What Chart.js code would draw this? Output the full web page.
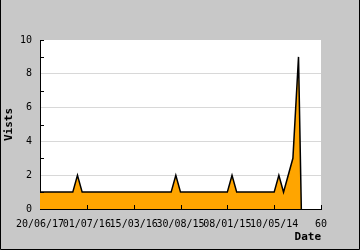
<!DOCTYPE html>
<html>
<head>
<meta charset="utf-8">
<script src="https://cdn.jsdelivr.net/npm/chart.js@4/dist/chart.umd.min.js"></script>
<style>
  html, body { margin: 0; padding: 0; background: #c8c8c8; }
  #wrap { width: 360px; height: 250px; position: relative; }
</style>
</head>
<body>
<div id="wrap"><canvas id="visitsChart"></canvas></div>
<script>
// x position (period index) and visits
const periods = [0, 7, 8, 9, 28, 29, 30, 40, 41, 42, 50, 51, 52, 54, 55.2, 55.8];
const visits  = [1, 1, 2, 1, 1,  2,  1,  1,  2,  1,  1,  2,  1,  3,  9,    0];

// tick labels on the x axis (every 10 periods)
const dateLabels = ["20/06/17", "01/07/16", "15/03/16", "30/08/15", "08/01/15", "10/05/14", "60"];

const monoFont = "'DejaVu Sans Mono', monospace";

// white plot area, grey frame with dark border, inward tick marks
const framePlugin = {
    id: "frame",
    beforeDraw(chart) {
        const ctx = chart.ctx;
        const a = chart.chartArea;
        ctx.save();
        ctx.fillStyle = "#c8c8c8";
        ctx.fillRect(0, 0, chart.width, chart.height);
        ctx.fillStyle = "#ffffff";
        ctx.fillRect(a.left, a.top, a.right - a.left, a.bottom - a.top);
        ctx.restore();
    },
    afterDatasetsDraw(chart) {
        const ctx = chart.ctx;
        const a = chart.chartArea;
        const xs = chart.scales.x;
        const ys = chart.scales.y;
        ctx.save();
        ctx.strokeStyle = "#000000";
        ctx.lineWidth = 1;
        ctx.beginPath();
        xs.ticks.forEach((t, i) => {
            if (t.value === 0) return;
            const px = Math.round(xs.getPixelForTick(i)) + 0.5;
            ctx.moveTo(px, a.bottom);
            ctx.lineTo(px, a.bottom - 4);
        });
        ys.ticks.forEach((t, i) => {
            if (t.value === 0) return;
            if (t.value % 2 === 0 && t.value !== 10) return;
            const py = Math.round(ys.getPixelForTick(i)) + 0.5;
            ctx.moveTo(a.left, py);
            ctx.lineTo(a.left + 4, py);
        });
        ctx.stroke();
        ctx.restore();
    },
    afterDraw(chart) {
        const ctx = chart.ctx;
        ctx.save();
        ctx.strokeStyle = "#000000";
        ctx.lineWidth = 1;
        ctx.beginPath();
        ctx.moveTo(0.5, 0);
        ctx.lineTo(0.5, chart.height - 0.5);
        ctx.lineTo(chart.width - 0.5, chart.height - 0.5);
        ctx.lineTo(chart.width - 0.5, 0);
        ctx.stroke();
        ctx.restore();
    }
};

new Chart(document.getElementById("visitsChart"), {
    type: "line",
    data: {
        datasets: [{
            label: "Visits",
            data: periods.map((p, i) => ({ x: p, y: visits[i] })),
            borderColor: "#000000",
            borderWidth: 1.5,
            backgroundColor: "#ffa500",
            fill: "origin",
            pointRadius: 0,
            tension: 0
        }]
    },
    options: {
        responsive: true,
        maintainAspectRatio: false,
        animation: false,
        events: [],
        layout: { padding: { left: 0, top: 40, right: 39, bottom: 0 } },
        plugins: {
            legend: { display: false },
            tooltip: { enabled: false }
        },
        scales: {
            x: {
                type: "linear",
                min: 0,
                max: 60,
                afterFit(scale) { scale.height = 41; },
                grid: { display: false, drawTicks: false },
                border: { display: true, color: "#000000", width: 1 },
                ticks: {
                    stepSize: 10,
                    autoSkip: false,
                    maxRotation: 0,
                    padding: 9,
                    color: "#000000",
                    font: { family: monoFont, size: 10 },
                    callback: function(value) {
                        const i = Math.round(value / 10);
                        return dateLabels[i] !== undefined ? dateLabels[i] : "";
                    }
                },
                title: {
                    display: true,
                    text: "Date",
                    align: "end",
                    color: "#000000",
                    font: { family: monoFont, size: 11, weight: "bold" },
                    padding: { top: 0, bottom: 6 }
                }
            },
            y: {
                min: 0,
                max: 10,
                afterFit(scale) { scale.width = 40; },
                grid: {
                    drawTicks: false,
                    color: function(ctx) {
                        const v = ctx.tick ? ctx.tick.value : 0;
                        return (v > 0 && v < 10 && v % 2 === 0) ? "#d8d8d8" : "rgba(0,0,0,0)";
                    }
                },
                border: { display: true, color: "#000000", width: 1 },
                ticks: {
                    stepSize: 1,
                    autoSkip: false,
                    padding: 8,
                    color: "#000000",
                    font: { family: monoFont, size: 10 },
                    callback: function(value) {
                        return value % 2 === 0 ? String(value) : "";
                    }
                },
                title: {
                    display: true,
                    text: "Vists",
                    color: "#000000",
                    font: { family: monoFont, size: 11, weight: "bold" },
                    padding: { top: 3, bottom: 0 }
                }
            }
        }
    },
    plugins: [framePlugin]
});
</script>
</body>
</html>
